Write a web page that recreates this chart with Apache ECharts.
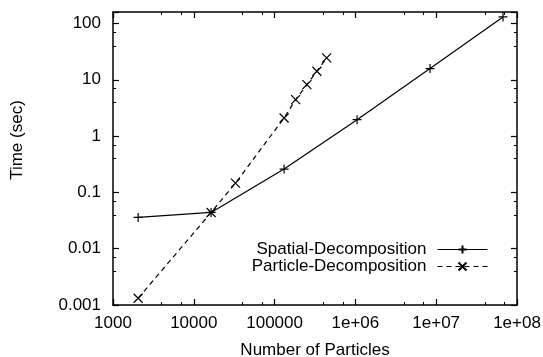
<!DOCTYPE html>
<html>
<head>
<meta charset="utf-8">
<script src="https://cdn.jsdelivr.net/npm/echarts@6/dist/echarts.min.js"></script>
<style>
  html, body { margin: 0; padding: 0; background: #fff; }
  #chart { width: 543px; height: 357px; }
</style>
</head>
<body>
<div id="chart"></div>
<script>
// particle counts and times
const spatialN = [2048, 16384, 131072, 1048576, 8388608, 67108864];
const spatialT = [0.036, 0.044, 0.26, 1.96, 15.8, 131];
const particleN = [2048, 16384, 32768, 131072, 182000, 251000, 334000, 441000];
const particleT = [0.00132, 0.044, 0.146, 2.1, 4.44, 8.2, 14.2, 24.5];

const seriesNames = ["Spatial-Decomposition", "Particle-Decomposition"];
const xRange = [1000, 1e8];
const yRange = [0.001, 160];

const font = "'Liberation Sans', Arial, Helvetica, sans-serif";
const fs = 17;

function xLabel(v) {
  let e = Math.round(Math.log10(v));
  if (e >= 6) return "1e+" + (e < 10 ? "0" + e : e);
  return String(Math.pow(10, e));
}
function yLabel(v) {
  let e = Math.round(Math.log10(v));
  if (e >= 0) return String(Math.pow(10, e));
  return Math.pow(10, e).toFixed(-e);
}

function pairs(xs, ys) {
  return xs.map((x, i) => [x, ys[i]]);
}

let myChart = echarts.init(document.getElementById("chart"));

let axisCommon = {
  type: "log",
  logBase: 10,
  axisLine: { show: true, lineStyle: { color: "#000", width: 1.5 } },
  axisTick: { show: true, inside: true, length: 6, lineStyle: { color: "#000", width: 1.2 } },
  minorTick: { show: true, splitNumber: 3, length: 3, lineStyle: { color: "#000", width: 1 } },
  splitLine: { show: false }
};

let option = {
  backgroundColor: "#fff",
  animation: false,
  textStyle: { fontFamily: font, color: "#000" },
  grid: { left: 113, right: 26, top: 12, bottom: 52, containLabel: false, outerBoundsMode: "none" },
  xAxis: [
    Object.assign({}, axisCommon, {
      min: xRange[0],
      max: xRange[1],
      position: "bottom",
      name: "Number of Particles",
      nameLocation: "middle",
      nameGap: 37,
      nameTextStyle: { fontSize: fs, color: "#000", fontFamily: font },
      axisLabel: { fontSize: fs, color: "#000", fontFamily: font, margin: 10, formatter: xLabel }
    }),
    Object.assign({}, axisCommon, {
      min: xRange[0],
      max: xRange[1],
      position: "top",
      axisLabel: { show: false }
    })
  ],
  yAxis: [
    Object.assign({}, axisCommon, {
      min: yRange[0],
      max: yRange[1],
      position: "left",
      axisLabel: { fontSize: fs, color: "#000", fontFamily: font, margin: 12, showMaxLabel: false, formatter: yLabel }
    }),
    Object.assign({}, axisCommon, {
      min: yRange[0],
      max: yRange[1],
      position: "right",
      axisLabel: { show: false }
    })
  ],
  graphic: [
    {
      type: "text",
      x: 17,
      y: 140,
      rotation: Math.PI / 2,
      style: {
        text: "Time (sec)",
        fontSize: fs,
        fontFamily: font,
        fill: "#000",
        align: "center",
        verticalAlign: "middle"
      }
    }
  ],
  legend: {
    orient: "vertical",
    right: 50,
    top: 236,
    align: "right",
    itemWidth: 50,
    itemHeight: 10,
    itemGap: 0,
    textStyle: { fontSize: fs, color: "#000", fontFamily: font, padding: [0, 6, 0, 0] },
    lineStyle: { width: 1 },
    data: seriesNames
  },
  series: [
    {
      name: seriesNames[0],
      type: "line",
      data: pairs(spatialN, spatialT),
      symbol: "path://M0,5L10,5M5,0L5,10",
      symbolSize: 9,
      lineStyle: { color: "#000", width: 1.2, type: "solid" },
      itemStyle: { color: "#000", borderColor: "#000", borderWidth: 1.2 }
    },
    {
      name: seriesNames[1],
      type: "line",
      data: pairs(particleN, particleT),
      symbol: "path://M0,0L10,10M10,0L0,10",
      symbolSize: 9,
      lineStyle: { color: "#000", width: 1.2, type: [5, 4] },
      itemStyle: { color: "#000", borderColor: "#000", borderWidth: 1.2 }
    }
  ]
};
myChart.setOption(option);
</script>
</body>
</html>
